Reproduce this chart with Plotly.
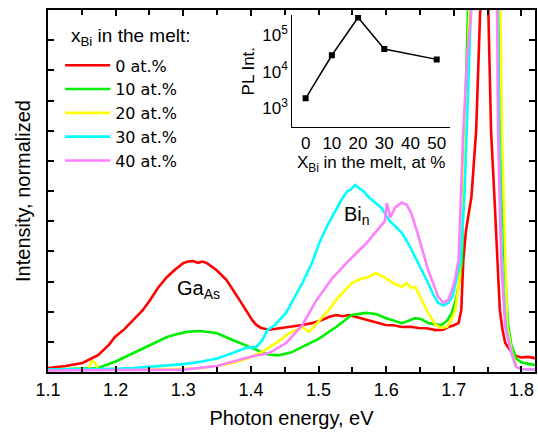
import plotly.graph_objects as go

# ---------------- data ----------------
names = ["0 at.%", "10 at.%", "20 at.%", "30 at.%", "40 at.%"]
colors = ["#ff0000", "#00ee00", "#ffff00", "#00ffff", "#ff80ff"]

E_red = [1.100,1.126,1.151,1.174,1.190,1.199,1.213,1.226,1.240,1.251,1.263,1.276,1.288,1.300,1.307,1.314,1.322,1.328,1.335,1.349,1.364,1.383,1.402,1.408,1.415,1.427,1.445,1.460,1.476,1.490,1.505,1.515,1.526,1.535,1.545,1.560,1.574,1.587,1.599,1.611,1.623,1.636,1.648,1.660,1.673,1.684,1.692,1.700,1.707,1.711,1.714,1.718,1.726,1.733,1.739,1.745,1.751,1.755,1.760,1.765,1.768,1.772,1.776,1.783,1.790,1.800,1.810,1.820]
I_red = [0.13,0.20,0.30,0.56,0.90,1.16,1.42,1.72,2.05,2.39,2.80,3.15,3.40,3.61,3.66,3.68,3.62,3.66,3.61,3.38,3.05,2.39,1.72,1.56,1.46,1.40,1.45,1.50,1.56,1.62,1.72,1.82,1.89,1.85,1.89,1.80,1.72,1.65,1.56,1.55,1.49,1.50,1.46,1.45,1.39,1.40,1.49,1.55,1.62,2.05,3.70,4.70,5.80,8.0,12.0,16.0,12.0,8.0,5.8,3.7,2.05,1.40,0.96,0.73,0.55,0.48,0.50,0.46]

E_grn = [1.100,1.140,1.174,1.200,1.226,1.250,1.276,1.290,1.305,1.324,1.340,1.349,1.373,1.398,1.410,1.425,1.440,1.460,1.476,1.500,1.526,1.549,1.570,1.585,1.599,1.612,1.623,1.633,1.643,1.652,1.662,1.672,1.682,1.690,1.697,1.703,1.707,1.712,1.716,1.721,1.740,1.762,1.766,1.770,1.775,1.780,1.785,1.792,1.800,1.810,1.820]
I_grn = [0.08,0.10,0.13,0.35,0.63,0.90,1.16,1.25,1.33,1.36,1.33,1.29,1.06,0.83,0.72,0.58,0.55,0.65,0.83,1.10,1.49,1.89,1.96,1.92,1.79,1.70,1.62,1.70,1.79,1.75,1.62,1.58,1.56,1.70,1.96,2.40,2.82,3.70,8.0,12.0,25.0,25.0,12.0,7.0,3.7,1.6,0.9,0.45,0.32,0.27,0.23]

E_yel = [1.100,1.150,1.160,1.164,1.167,1.170,1.174,1.200,1.250,1.300,1.324,1.350,1.373,1.395,1.413,1.427,1.440,1.457,1.468,1.476,1.486,1.495,1.501,1.515,1.526,1.540,1.549,1.562,1.574,1.584,1.592,1.599,1.610,1.623,1.630,1.636,1.643,1.652,1.662,1.673,1.682,1.690,1.697,1.702,1.708,1.713,1.717,1.723,1.745,1.769,1.771,1.776,1.779,1.786,1.793,1.800,1.810,1.820]
I_yel = [0.05,0.06,0.08,0.33,0.35,0.30,0.07,0.08,0.09,0.11,0.13,0.20,0.30,0.45,0.63,0.83,1.00,1.29,1.40,1.49,1.33,1.55,1.72,2.05,2.39,2.75,2.95,3.08,3.15,3.28,3.20,3.12,2.95,2.82,2.95,2.80,2.82,2.39,1.96,1.56,1.46,1.50,1.75,2.05,3.00,5.00,8.0,12.0,25.0,12.0,8.0,3.7,1.5,0.63,0.17,0.10,0.08,0.07]

E_cyn = [1.100,1.150,1.200,1.226,1.250,1.300,1.324,1.350,1.373,1.393,1.408,1.417,1.424,1.435,1.452,1.465,1.476,1.490,1.501,1.513,1.526,1.535,1.543,1.548,1.554,1.560,1.567,1.574,1.584,1.593,1.604,1.613,1.623,1.633,1.643,1.652,1.662,1.670,1.677,1.685,1.692,1.698,1.705,1.710,1.716,1.720,1.727,1.745,1.765,1.767,1.771,1.777,1.785,1.792,1.800,1.810,1.820]
I_cyn = [0.08,0.09,0.11,0.13,0.17,0.26,0.33,0.45,0.63,0.80,0.83,1.06,1.39,1.55,1.96,2.50,2.95,3.60,4.28,4.85,5.37,5.75,6.00,6.05,6.20,6.10,5.98,5.80,5.62,5.44,5.04,4.85,4.61,4.25,3.81,3.40,2.95,2.55,2.29,2.20,2.30,2.50,3.20,3.70,6.0,8.0,12.0,25.0,12.0,8.0,3.7,1.5,0.63,0.17,0.10,0.08,0.07]

E_pnk = [1.100,1.200,1.300,1.350,1.398,1.427,1.452,1.476,1.496,1.520,1.545,1.570,1.593,1.598,1.601,1.606,1.613,1.623,1.630,1.637,1.648,1.662,1.677,1.685,1.692,1.700,1.707,1.714,1.720,1.726,1.745,1.764,1.7654,1.770,1.776,1.785,1.792,1.800,1.820]
I_pnk = [0.05,0.06,0.08,0.20,0.50,0.63,0.96,1.55,2.35,3.10,3.70,4.25,4.85,5.00,5.60,5.12,5.45,5.62,5.55,5.27,4.48,3.38,2.49,2.29,2.40,2.90,3.70,8.0,10.5,12.0,25.0,12.0,8.0,3.7,1.5,0.63,0.17,0.10,0.08]

series_E = [E_red, E_grn, E_yel, E_cyn, E_pnk]
series_I = [I_red, I_grn, I_yel, I_cyn, I_pnk]

inset_x = [0, 10, 20, 30, 50]
inset_pl = [1870, 28000, 300000, 41600, 21600]
inset_xticks = [0, 10, 20, 30, 40, 50]
inset_yticks = [1000, 10000, 100000]
inset_ytext = ["10<sup>3</sup>", "10<sup>4</sup>", "10<sup>5</sup>"]

FONT = "Liberation Sans, Arial, sans-serif"

fig = go.Figure()
for i, (nm, col, ex, iy) in enumerate(zip(names, colors, series_E, series_I)):
    fig.add_trace(go.Scatter(x=ex, y=iy, mode="lines", name=nm,
                             line=dict(color=col, width=2.6),
                             legendgroup=f"g{i}"))

fig.add_trace(go.Scatter(x=inset_x, y=inset_pl, mode="lines+markers",
                         xaxis="x2", yaxis="y2", showlegend=False,
                         line=dict(color="black", width=1.5),
                         marker=dict(symbol="square", size=6, color="black")))

fig.update_layout(
    width=538, height=436,
    margin=dict(l=48, r=1, t=10, b=64),
    paper_bgcolor="white", plot_bgcolor="white",
    font=dict(family=FONT, size=18, color="black"),
    showlegend=True,
    legend=dict(
        x=0.025, y=0.894, xanchor="left", yanchor="top",
        bgcolor="rgba(0,0,0,0)",
        font=dict(size=16, family="DejaVu Sans, Liberation Sans, sans-serif"),
        traceorder="grouped", tracegroupgap=0,
        itemwidth=45,
    ),
    xaxis=dict(
        range=[1.1, 1.82], dtick=0.1, tick0=1.1,
        showline=True, linecolor="black", linewidth=2, mirror="ticks",
        ticks="inside", ticklen=6, tickwidth=1.5, tickcolor="black",
        minor=dict(dtick=0.05, ticks="inside", ticklen=5, tickwidth=1.5, tickcolor="black"),
        showgrid=False, zeroline=False,
        tickfont=dict(size=18),
        title=dict(text="Photon energy, eV", font=dict(size=20), standoff=12),
    ),
    yaxis=dict(
        range=[0, 12], dtick=1, tick0=0,
        showline=True, linecolor="black", linewidth=2, mirror="ticks",
        ticks="inside", ticklen=6, tickwidth=1.5, tickcolor="black",
        showticklabels=False, showgrid=False, zeroline=False,
        title=dict(text="Intensity, normalized", font=dict(size=20), standoff=10),
    ),
    xaxis2=dict(
        domain=[0.5016, 0.8256], anchor="y2",
        range=[-5.1, 55.1], tickvals=inset_xticks,
        showline=True, linecolor="black", linewidth=1.2,
        ticks="", showgrid=False, zeroline=False,
        tickfont=dict(size=17),
        title=dict(text="X<sub>Bi</sub> in the melt, at %", font=dict(size=17), standoff=4),
    ),
    yaxis2=dict(
        domain=[0.676, 0.986], anchor="x2", type="log",
        range=[2.48, 5.545], tickvals=inset_yticks, ticktext=inset_ytext,
        showline=True, linecolor="black", linewidth=1.2,
        ticks="", showgrid=False, zeroline=False,
        tickfont=dict(size=17),
        title=dict(text="PL Int.", font=dict(size=17), standoff=3),
    ),
    annotations=[
        dict(x=0.043, y=0.925, xref="paper", yref="paper", xanchor="left", yanchor="middle",
             text="x<sub>Bi</sub> in the melt:", showarrow=False, font=dict(size=19)),
        dict(x=1.322, y=2.72, xref="x", yref="y", text="Ga<sub>As</sub>",
             showarrow=False, font=dict(size=20)),
        dict(x=1.557, y=5.2, xref="x", yref="y", text="Bi<sub>n</sub>",
             showarrow=False, font=dict(size=20)),
    ],
)

fig.write_html("out.html")
